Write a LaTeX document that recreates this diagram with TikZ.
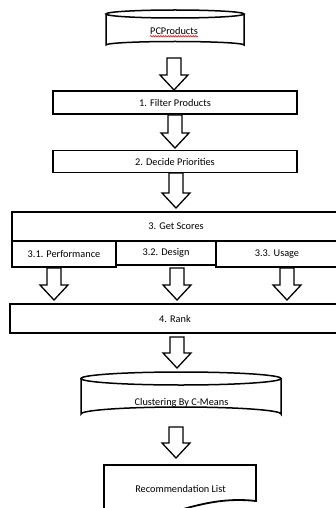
\documentclass[tikz,border=0pt]{standalone}
\usepackage{fontspec}
\setmainfont{Carlito}
\usetikzlibrary{decorations.pathmorphing,calc}
\tikzset{
  box/.style={draw, line width=1.8pt, inner sep=0pt, font=\fontsize{10.3}{12}\selectfont},
  lbl/.style={inner sep=0pt, font=\fontsize{10.3}{12}\selectfont},
  cyl/.style={draw, line width=1.5pt, fill=white},
  arrowline/.style={draw, line width=1.3pt, fill=white, line join=miter},
  pics/barrow/.style={code={
    \path[arrowline] (-7,0) -- (-7,#1-15) -- (-14,#1-15) -- (0,#1) -- (14,#1-15) -- (7,#1-15) -- (7,0) -- cycle;
  }}
}
\begin{document}
\begin{tikzpicture}[x=1pt,y=-1pt]
\useasboundingbox (0,0) rectangle (336,508);
% PCProducts cylinder
\path[cyl] (106,14) -- (106,45) arc[start angle=180,end angle=360,x radius=69,y radius=3.5] -- (244,14);
\path[cyl] (175,14) ellipse[x radius=69,y radius=4];
\node[lbl] (pc) at (174,31) {PCProducts};
\draw[red, line width=0.6pt, decorate, decoration={snake, amplitude=0.7pt, segment length=2.5pt}] ($(pc.south west)+(0,1.5)$) -- ($(pc.south east)+(0,1.5)$);
% boxes
\node[box, minimum width=244, minimum height=23] (filter) at (175,102.5) {1. Filter Products};
\node[box, minimum width=244, minimum height=22] (decide) at (175,161.5) {2. Decide Priorities};
\node[box, minimum width=328, minimum height=29] (scores) at (176,226.5) {3. Get Scores};
\node[box, minimum width=104, minimum height=26] (perf) at (64,254) {3.1. Performance};
\node[box, minimum width=100, minimum height=24] (design) at (166,253) {3.2. Design};
\node[box, minimum width=124, minimum height=26, line width=2.2pt] (usage) at (278,254) {};
\node[lbl] (usagetxt) at (277,254.5) {3.3. Usage};
\node[box, minimum width=330, minimum height=29] (rank) at (175,318.5) {4. Rank};
% Clustering cylinder
\path[cyl] (81,378.5) -- (81,414) arc[start angle=180,end angle=360,x radius=100,y radius=7] -- (281,378.5);
\path[cyl] (181,378.5) ellipse[x radius=100,y radius=6.5];
\node[lbl] (clust) at (181.5,403) {Clustering By C-Means};
% Recommendation list (document shape)
\draw[line width=1.8pt, fill=white] (104,518) -- (104,465) -- (256,465) -- (256,501)
  .. controls (220,497) and (195,506) .. (165,514) -- (150,518);
\node[lbl] (rec) at (180.5,489) {Recommendation List};
% block arrows
\coordinate (a1) at (174,58);
\coordinate (a2) at (175,115);
\coordinate (a3) at (176,173);
\coordinate (a4) at (54,268);
\coordinate (a5) at (177,268);
\coordinate (a6) at (287,268);
\coordinate (a7) at (177,337);
\coordinate (a8) at (176,427);
\pic at (a1) {barrow=32};
\pic at (a2) {barrow=33};
\pic at (a3) {barrow=35};
\pic at (a4) {barrow=32};
\pic at (a5) {barrow=32};
\pic at (a6) {barrow=32};
\pic at (a7) {barrow=31};
\pic at (a8) {barrow=31};
\end{tikzpicture}
\end{document}
